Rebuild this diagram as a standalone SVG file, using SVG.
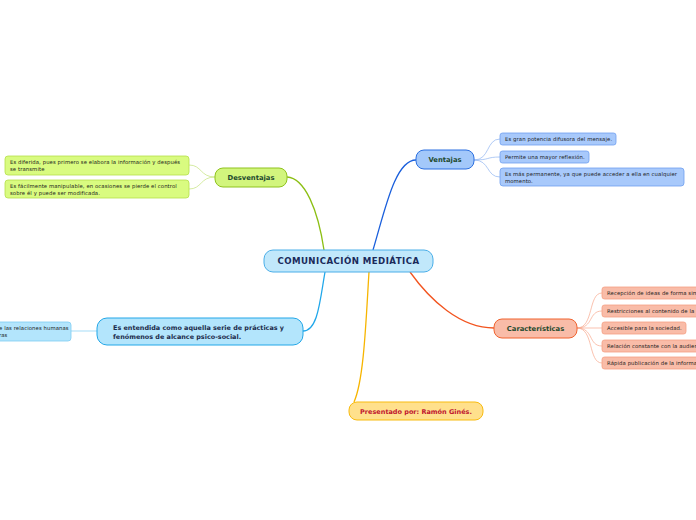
<svg xmlns="http://www.w3.org/2000/svg" width="696" height="520" viewBox="0 0 696 520">
<style>
text{font-family:"DejaVu Sans","Verdana",sans-serif;}
.main{font-weight:bold;font-size:6.8px;fill:#1e4a2e;}
.leaf{font-size:5.3px;fill:#1a1a1a;letter-spacing:0.1px;}
.c{fill:none;stroke-width:1.3;}
.lc{fill:none;stroke-width:0.7;}
</style>
<rect width="696" height="520" fill="#ffffff"/>
<g id="connectors">
<path class="c" stroke="#8cbf14" d="M324,250 C318,210 305,178 287,177"/>
<path class="c" stroke="#1a5fdc" d="M373,250 C385,210 395,160 416,160"/>
<path class="c" stroke="#f2541f" d="M410,272 C430,300 460,328 494,328"/>
<path class="c" stroke="#20a7ea" d="M325,272 C320,300 318,331 303,331"/>
<path class="c" stroke="#f7b500" d="M369,272 C366,320 364,380 354,402"/>
<path class="lc" stroke="#c3e37a" d="M215,177 C200,177 202,165 189,165"/>
<path class="lc" stroke="#c3e37a" d="M215,177 C200,177 202,189 189,189"/>
<path class="lc" stroke="#8fb4f0" d="M474,160 C490,160 486,139 500,139"/>
<path class="lc" stroke="#8fb4f0" d="M474,160 C490,160 486,157 500,157"/>
<path class="lc" stroke="#8fb4f0" d="M474,160 C490,160 486,177 500,177"/>
<path class="lc" stroke="#f8a88c" d="M577,328 C594,328 588,293 602,293"/>
<path class="lc" stroke="#f8a88c" d="M577,328 C594,328 588,311 602,311"/>
<path class="lc" stroke="#f8a88c" d="M577,328 L602,328"/>
<path class="lc" stroke="#f8a88c" d="M577,328 C594,328 588,346 602,346"/>
<path class="lc" stroke="#f8a88c" d="M577,328 C594,328 588,363 602,363"/>
<path class="lc" stroke="#7fcdf3" d="M97,331 L71,331"/>
</g>
<g id="central">
<rect x="264" y="250" width="169" height="22" rx="9" fill="#c1e8fb" stroke="#4aaee8" stroke-width="1"/>
<text x="348.5" y="264" text-anchor="middle" font-weight="bold" font-size="8.6" fill="#1a2a5a" letter-spacing="0.45">COMUNICACIÓN MEDIÁTICA</text>
</g>
<g id="desventajas">
<rect x="215" y="168" width="72" height="19" rx="8" fill="#d2f57d" stroke="#8fc31f" stroke-width="1"/>
<text class="main" x="251" y="180" text-anchor="middle">Desventajas</text>
</g>
<g id="desv1">
<rect x="5" y="156" width="184" height="19" rx="3" fill="#d9fb80" stroke="#b5e04a" stroke-width="0.8"/>
<text class="leaf" x="10" y="163.5">Es diferida, pues primero se elabora la información y después</text>
<text class="leaf" x="10" y="170.5">se transmite</text>
</g>
<g id="desv2">
<rect x="5" y="180" width="184" height="18" rx="3" fill="#d9fb80" stroke="#b5e04a" stroke-width="0.8"/>
<text class="leaf" x="10" y="187.5">Es fácilmente manipulable, en ocasiones se pierde el control</text>
<text class="leaf" x="10" y="194.5">sobre él y puede ser modificada.</text>
</g>
<g id="ventajas">
<rect x="416" y="150" width="58" height="19" rx="8" fill="#a3c8fa" stroke="#2b6fe0" stroke-width="1"/>
<text class="main" x="445" y="162" text-anchor="middle">Ventajas</text>
</g>
<g id="vent1">
<rect x="500" y="133" width="116" height="12" rx="2.5" fill="#a8c9fb" stroke="#6fa0f0" stroke-width="0.8"/>
<text class="leaf" x="505" y="141">Es gran potencia difusora del mensaje.</text>
</g>
<g id="vent2">
<rect x="500" y="151" width="89" height="12" rx="2.5" fill="#a8c9fb" stroke="#6fa0f0" stroke-width="0.8"/>
<text class="leaf" x="505" y="159">Permite una mayor reflexión.</text>
</g>
<g id="vent3">
<rect x="500" y="168" width="184" height="18" rx="3" fill="#a8c9fb" stroke="#6fa0f0" stroke-width="0.8"/>
<text class="leaf" x="505" y="175.5">Es más permanente, ya que puede acceder a ella en cualquier</text>
<text class="leaf" x="505" y="182.5">momento.</text>
</g>
<g id="caracteristicas">
<rect x="494" y="319" width="83" height="19" rx="8" fill="#f9bca8" stroke="#f0632f" stroke-width="1"/>
<text class="main" x="535.5" y="331" text-anchor="middle">Características</text>
</g>
<g id="car1">
<rect x="602" y="287" width="110" height="12" rx="2.5" fill="#f9bca8" stroke="#f5a084" stroke-width="0.8"/>
<text class="leaf" x="607" y="295">Recepción de ideas de forma sim</text>
</g>
<g id="car2">
<rect x="602" y="305" width="110" height="12" rx="2.5" fill="#f9bca8" stroke="#f5a084" stroke-width="0.8"/>
<text class="leaf" x="607" y="313">Restricciones al contenido de la</text>
</g>
<g id="car3">
<rect x="602" y="322" width="84" height="12" rx="2.5" fill="#f9bca8" stroke="#f5a084" stroke-width="0.8"/>
<text class="leaf" x="607" y="330">Accesible para la sociedad.</text>
</g>
<g id="car4">
<rect x="602" y="340" width="110" height="12" rx="2.5" fill="#f9bca8" stroke="#f5a084" stroke-width="0.8"/>
<text class="leaf" x="607" y="348">Relación constante con la audien</text>
</g>
<g id="car5">
<rect x="602" y="357" width="110" height="12" rx="2.5" fill="#f9bca8" stroke="#f5a084" stroke-width="0.8"/>
<text class="leaf" x="607" y="365">Rápida publicación de la informa</text>
</g>
<g id="entendida">
<rect x="97" y="318" width="206" height="27" rx="10" fill="#b3e5fc" stroke="#22a7e8" stroke-width="1"/>
<text x="113" y="330" font-weight="bold" font-size="6.45" fill="#1b2a4a">Es entendida como aquella serie de prácticas y</text>
<text x="113" y="338.5" font-weight="bold" font-size="6.45" fill="#1b2a4a">fenómenos de alcance psico-social.</text>
</g>
<g id="relaciones">
<rect x="-60" y="322" width="131" height="19" rx="3" fill="#b3e5fc" stroke="#7fcdf3" stroke-width="0.8"/>
<text class="leaf" x="-1" y="329.5">e las relaciones humanas</text>
<text class="leaf" x="-1" y="336.5">ras</text>
</g>
<g id="presentado">
<rect x="349" y="402" width="134" height="18" rx="8" fill="#ffe08c" stroke="#f8bb10" stroke-width="1"/>
<text x="416" y="413.5" text-anchor="middle" font-weight="bold" font-size="6.5" fill="#c0152f">Presentado por: Ramón Ginés.</text>
</g>
</svg>
